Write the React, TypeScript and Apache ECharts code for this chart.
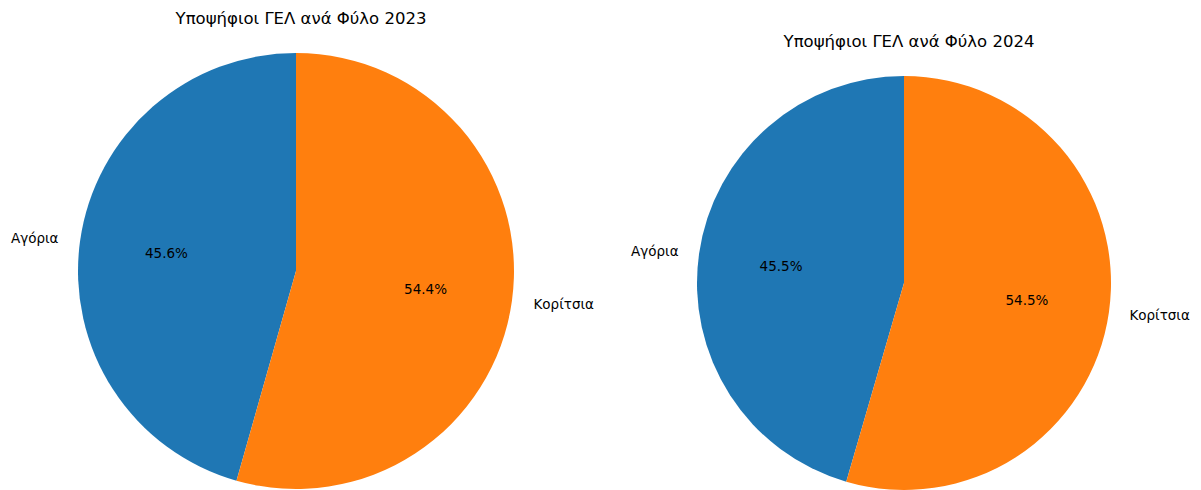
import React, { useEffect, useRef } from "react";
import * as echarts from "echarts";

const categories = ["Αγόρια", "Κορίτσια"];
const values2023 = [45.6, 54.4];
const values2024 = [45.5, 54.5];
const titles = ["Υποψήφιοι ΓΕΛ ανά Φύλο 2023", "Υποψήφιοι ΓΕΛ ανά Φύλο 2024"];
const colors = ["#1f77b4", "#ff7f0e"];

const FONT = "DejaVu Sans";

function pieSet(values: number[], center: [number, number], r: number) {
  const data = categories.map((name, i) => ({ name, value: values[i] }));
  const base = {
    type: "pie" as const,
    center,
    startAngle: 90,
    clockwise: false,
    avoidLabelOverlap: false,
    animation: false,
    silent: true,
    emphasis: { disabled: true },
  };
  const clear = { color: "rgba(0,0,0,0)", borderWidth: 0 };
  return [
    {
      ...base,
      radius: r,
      data: data.map((d, i) => ({ ...d, itemStyle: { color: colors[i] } })),
      label: { show: false },
      labelLine: { show: false },
    },
    {
      ...base,
      radius: r * 1.2 - 6,
      data: data.map((d) => ({ ...d, itemStyle: clear })),
      label: {
        show: true,
        position: "inside",
        color: "#000",
        fontFamily: FONT,
        fontSize: 13.5,
        formatter: (p: any) => p.percent.toFixed(1) + "%",
      },
      labelLine: { show: false },
    },
    {
      ...base,
      radius: r * 1.1,
      data: data.map((d) => ({ ...d, itemStyle: clear })),
      label: {
        show: true,
        position: "outside",
        color: "#000",
        fontFamily: FONT,
        fontSize: 13.5,
        distanceToLabelLine: 0,
        formatter: "{b}",
      },
      labelLine: { show: false, length: 0, length2: 0 },
    },
  ];
}

export default function App() {
  const ref = useRef<HTMLDivElement>(null);
  useEffect(() => {
    document.body.style.margin = "0";
    const chart = echarts.init(ref.current!, null, { renderer: "svg" });
    chart.setOption({
      animation: false,
      backgroundColor: "#fff",
      title: [
        {
          text: titles[0],
          left: 296,
          top: 5,
          textAlign: "center",
          textStyle: { fontFamily: FONT, fontSize: 16.5, fontWeight: "normal", color: "#000" },
        },
        {
          text: titles[1],
          left: 904,
          top: 28,
          textAlign: "center",
          textStyle: { fontFamily: FONT, fontSize: 16.5, fontWeight: "normal", color: "#000" },
        },
      ],
      series: [...pieSet(values2023, [296, 271], 218), ...pieSet(values2024, [904, 283], 207)],
    });
    return () => chart.dispose();
  }, []);
  return (
    <div
      ref={ref}
      style={{ position: "fixed", left: 0, top: 0, width: 1201, height: 490 }}
    />
  );
}
